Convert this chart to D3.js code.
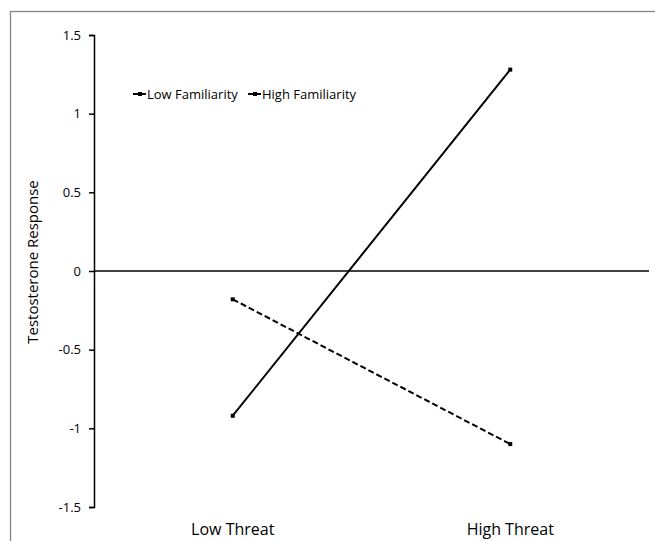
<!DOCTYPE html>
<html>
<head>
<meta charset="utf-8">
<script src="https://cdn.jsdelivr.net/npm/d3@7"></script>
<style>
  body { margin: 0; background: #fff; }
  text { font-family: "Open Sans", "Noto Sans", sans-serif; fill: #000; }
</style>
</head>
<body>
<div id="chart"></div>
<script>
var categories = ["Low Threat", "High Threat"];
var lowFamiliarity = [-0.92, 1.28];
var highFamiliarity = [-0.18, -1.10];
var yTicks = [-1.5, -1, -0.5, 0, 0.5, 1, 1.5];
var seriesNames = ["Low Familiarity", "High Familiarity"];

var svgWidth = 655;
var svgHeight = 541;

var margin = { top: 35, right: 6, bottom: 34, left: 94 };

var width = svgWidth - margin.left - margin.right;
var height = svgHeight - margin.top - margin.bottom;

var svg = d3.select("#chart")
    .append("svg")
    .attr("width", svgWidth)
    .attr("height", svgHeight);

// outer chart border (runs off the right and bottom edges)
svg.append("rect")
    .attr("x", 10.5)
    .attr("y", 11.5)
    .attr("width", 700)
    .attr("height", 600)
    .attr("fill", "none")
    .attr("stroke", "#868686")
    .attr("stroke-width", 1.3);

var chartGroup = svg.append("g")
    .attr("transform", `translate(${margin.left}, ${margin.top})`);

var xScale = d3.scalePoint()
    .domain(categories)
    .range([0, width])
    .padding(0.5);

var yScale = d3.scaleLinear()
    .domain([-1.5, 1.5])
    .range([height, 0]);

var leftAxis = d3.axisLeft(yScale)
    .tickValues(yTicks)
    .tickSize(5)
    .tickPadding(8)
    .tickFormat(d => String(d));

var yAxis = chartGroup.append("g").call(leftAxis);
yAxis.select(".domain").attr("stroke", "#000").attr("stroke-width", 1.5);
yAxis.selectAll(".tick line").attr("stroke", "#000").attr("stroke-width", 1.5);
yAxis.selectAll(".tick text")
    .style("font-size", "13px")
    .style("font-family", "'Open Sans', sans-serif");

// zero line across the plot
chartGroup.append("line")
    .attr("x1", 0)
    .attr("x2", width)
    .attr("y1", yScale(0))
    .attr("y2", yScale(0))
    .attr("stroke", "#000")
    .attr("stroke-width", 1.5);

// category labels under the plot
chartGroup.selectAll(".xlabel")
    .data(categories)
    .enter()
    .append("text")
    .attr("class", "xlabel")
    .attr("x", d => xScale(d))
    .attr("y", height + 28)
    .attr("text-anchor", "middle")
    .style("font-size", "16px")
    .text(d => d);

svg.append("text")
    .attr("transform", "translate(38, 262) rotate(-90)")
    .attr("text-anchor", "middle")
    .style("font-size", "15px")
    .text("Testosterone Response");

var series = [
    { name: seriesNames[0], values: lowFamiliarity, dash: null },
    { name: seriesNames[1], values: highFamiliarity, dash: "6,3" }
];

var line = d3.line()
    .x((d, i) => xScale(categories[i]))
    .y(d => yScale(d));

series.forEach(function(s) {
    chartGroup.append("path")
        .datum(s.values)
        .attr("d", line)
        .attr("fill", "none")
        .attr("stroke", "#000")
        .attr("stroke-width", 2)
        .attr("stroke-dasharray", s.dash);

    chartGroup.selectAll(null)
        .data(s.values)
        .enter()
        .append("rect")
        .attr("x", (d, i) => xScale(categories[i]) - 2)
        .attr("y", d => yScale(d) - 2)
        .attr("width", 4)
        .attr("height", 4)
        .attr("fill", "#000");
});

// legend
var legendX = [133, 248];
var legend = svg.selectAll(".legend")
    .data(series)
    .enter()
    .append("g")
    .attr("class", "legend")
    .attr("transform", (d, i) => `translate(${legendX[i]}, 94)`);

legend.append("line")
    .attr("x1", 0)
    .attr("x2", 13)
    .attr("stroke", "#000")
    .attr("stroke-width", 2);

legend.append("rect")
    .attr("x", 5)
    .attr("y", -2)
    .attr("width", 4)
    .attr("height", 4)
    .attr("fill", "#000");

legend.append("text")
    .attr("x", 14)
    .attr("y", 5)
    .style("font-size", "13px")
    .text(d => d.name);
</script>
</body>
</html>
